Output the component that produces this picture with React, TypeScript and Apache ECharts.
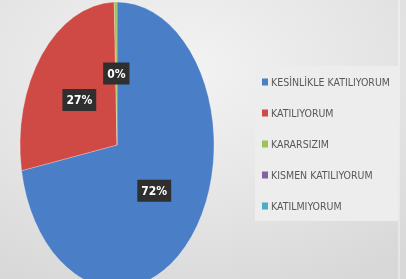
import React, { useEffect, useRef } from "react";
import * as echarts from "echarts";

const categories = [
  "KESİNLİKLE KATILIYORUM",
  "KATILIYORUM",
  "KARARSIZIM",
  "KISMEN KATILIYORUM",
  "KATILMIYORUM",
];
const values = [71.8, 27.3, 0.45, 0, 0];
const colors = ["#4a7ec6", "#cf4a44", "#9fc052", "#8064a2", "#4bacc6"];

const PIE = { cx: 117, cy: 145, rx: 97, ry: 143 };

export default function App() {
  const ref = useRef<HTMLDivElement>(null);
  useEffect(() => {
    document.body.style.margin = "0";
    const chart = echarts.init(ref.current!, null, { renderer: "svg" });
    const total = values.reduce((a, b) => a + b, 0);
    const font = "'Liberation Sans Narrow', 'DejaVu Sans Condensed', 'Roboto', sans-serif";

    const series = categories.map((name, i) => ({
      type: "custom",
      name,
      coordinateSystem: "none",
      color: colors[i],
      data: [[values[i]]],
      renderItem: (params: any, api: any) => {
        const v = values[i];
        if (!v) return { type: "group", children: [] };
        let cum = 0;
        for (let k = 0; k < i; k++) cum += values[k];
        const a0 = -Math.PI / 2 + (2 * Math.PI * cum) / total;
        const a1 = -Math.PI / 2 + (2 * Math.PI * (cum + v)) / total;
        const mid = (a0 + a1) / 2;
        const lr = PIE.rx * 0.5;
        const lx = PIE.cx + lr * Math.cos(mid);
        const ly = PIE.cy + lr * Math.sin(mid) * (PIE.ry / PIE.rx);
        const pct = Math.round((v / total) * 100) + "%";
        return {
          type: "group",
          children: [
            {
              type: "sector",
              x: PIE.cx,
              y: PIE.cy,
              scaleY: PIE.ry / PIE.rx,
              shape: { cx: 0, cy: 0, r: PIE.rx, r0: 0, startAngle: a0, endAngle: a1, clockwise: true },
              style: { fill: colors[i], stroke: "rgba(255,255,255,0.35)", lineWidth: 0.6 },
            },
            {
              type: "text",
              x: lx,
              y: ly,
              z2: 10,
              style: {
                text: pct,
                fill: "#ffffff",
                font: "bold 12px " + font,
                align: "center",
                verticalAlign: "middle",
                backgroundColor: "#2f2f2f",
                padding: [5, 4, 5, 4],
                boxShadowBlur: 3,
                boxShadowColor: "rgba(0,0,0,0.45)",
                boxShadowOffsetX: 1,
                boxShadowOffsetY: 1,
              },
            },
          ],
        };
      },
    }));

    chart.setOption({
      animation: false,
      graphic: [
        {
          type: "rect",
          z: -10,
          silent: true,
          shape: { x: 0, y: 0, width: 406, height: 279 },
          style: {
            fill: new echarts.graphic.RadialGradient(0.45, 0.25, 0.85, [
              { offset: 0, color: "#f3f3f3" },
              { offset: 0.6, color: "#e4e4e4" },
              { offset: 1, color: "#d8d8d8" },
            ]),
          },
        },
        {
          type: "rect",
          z: -9,
          silent: true,
          shape: { x: 398, y: 0, width: 2, height: 279 },
          style: { fill: "rgba(255,255,255,0.35)" },
        },
      ],
      legend: {
        orient: "vertical",
        left: 255,
        top: 66,
        padding: [9, 8, 8, 7],
        backgroundColor: "#ededed",
        itemWidth: 6,
        itemHeight: 7,
        itemGap: 17,
        icon: "rect",
        data: categories,
        textStyle: {
          color: "#595959",
          fontSize: 10.5,
          lineHeight: 14,
          fontFamily: font,
          padding: [0, 0, 0, -2],
        },
      },
      series,
    });
    return () => chart.dispose();
  }, []);
  return (
    <div
      ref={ref}
      style={{ position: "fixed", left: 0, top: 0, width: 406, height: 279 }}
    />
  );
}
